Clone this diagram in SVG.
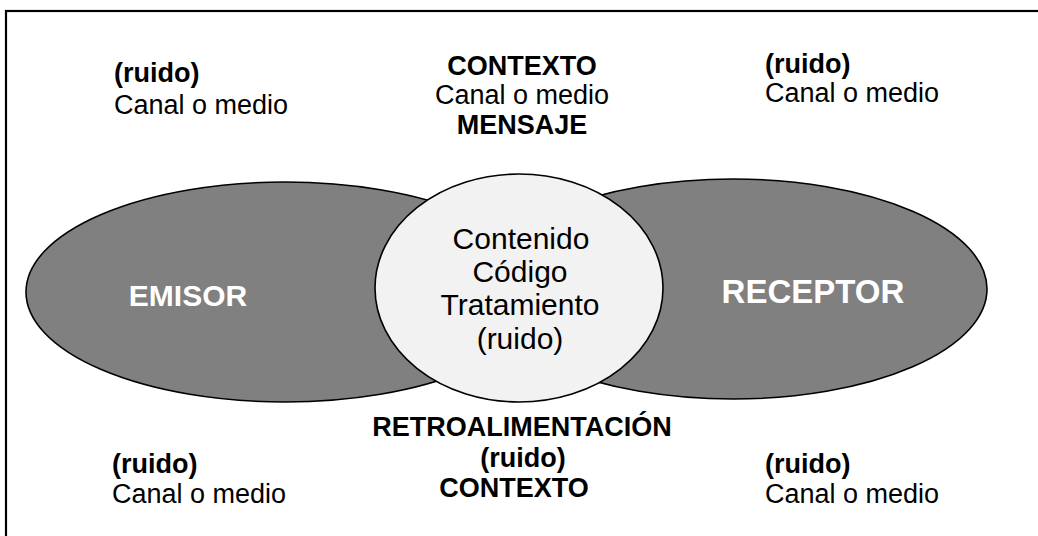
<svg xmlns="http://www.w3.org/2000/svg" width="1038" height="536" viewBox="0 0 1038 536">
<style>
.t{font-family:"Liberation Sans",Arial,sans-serif;font-size:27px;fill:#000}
.b{font-weight:bold}
.c{text-anchor:middle}
.shape{stroke:#000;stroke-width:1.6}
.big{font-family:"Liberation Sans",Arial,sans-serif;font-size:30px;font-weight:bold;fill:#fff;text-anchor:middle}
.mid{font-family:"Liberation Sans",Arial,sans-serif;font-size:30px;fill:#000;text-anchor:middle}
</style>
<rect x="0" y="0" width="1038" height="536" fill="#fff"/>
<rect x="6" y="11" width="1040" height="540" fill="none" stroke="#000" stroke-width="2.2"/>
<g id="connectors"></g>
<g id="emisor">
<ellipse class="shape" cx="285" cy="292" rx="259" ry="110" fill="#808080"/>
<text class="big" x="188" y="306">EMISOR</text>
</g>
<g id="receptor">
<ellipse class="shape" cx="733" cy="289" rx="254" ry="110" fill="#808080"/>
<text class="big" x="813" y="303" style="font-size:33px">RECEPTOR</text>
</g>
<g id="mensaje">
<ellipse class="shape" cx="519" cy="288" rx="144" ry="114" fill="#f2f2f2"/>
<text class="mid" x="521" y="249">Contenido</text>
<text class="mid" x="520" y="282">Código</text>
<text class="mid" x="520" y="315">Tratamiento</text>
<text class="mid" x="520" y="349">(ruido)</text>
</g>
<g id="top-left">
<text class="t b" x="114" y="82">(ruido)</text>
<text class="t" x="114" y="114">Canal o medio</text>
</g>
<g id="top-center">
<text class="t b c" x="522" y="75">CONTEXTO</text>
<text class="t c" x="522" y="104">Canal o medio</text>
<text class="t b c" x="522" y="134">MENSAJE</text>
</g>
<g id="top-right">
<text class="t b" x="765" y="73">(ruido)</text>
<text class="t" x="765" y="102">Canal o medio</text>
</g>
<g id="bottom-left">
<text class="t b" x="112" y="473">(ruido)</text>
<text class="t" x="112" y="503">Canal o medio</text>
</g>
<g id="bottom-center">
<text class="t b c" x="522" y="436">RETROALIMENTACIÓN</text>
<text class="t b c" x="523" y="467">(ruido)</text>
<text class="t b c" x="514" y="497">CONTEXTO</text>
</g>
<g id="bottom-right">
<text class="t b" x="765" y="473">(ruido)</text>
<text class="t" x="765" y="503">Canal o medio</text>
</g>
</svg>
